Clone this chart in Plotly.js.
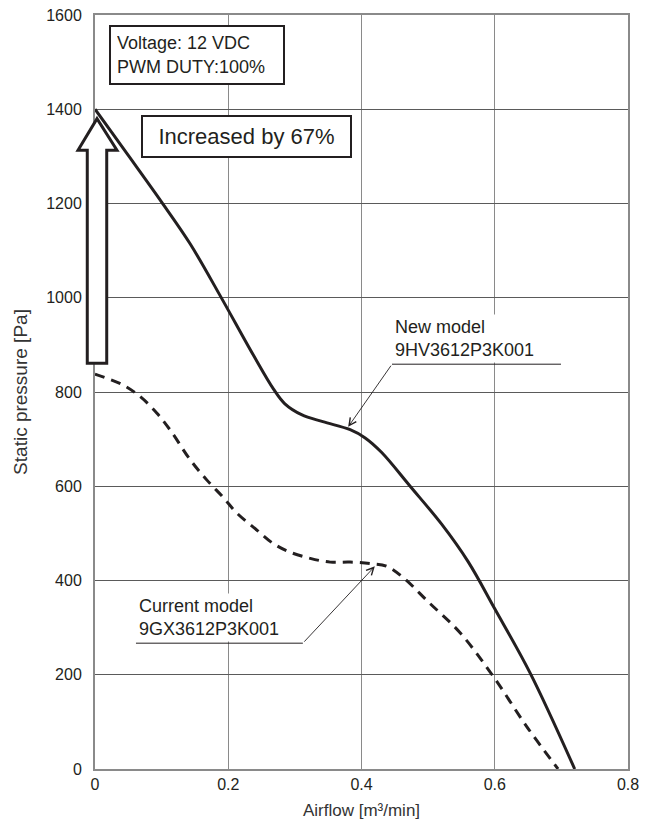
<!DOCTYPE html>
<html>
<head>
<meta charset="utf-8">
<script src="https://cdn.plot.ly/plotly-3.0.1.min.js"></script>
<style>html,body{margin:0;padding:0;background:#fff;}#chart{width:654px;height:825px;}</style>
</head>
<body>
<div id="chart"></div>
<script>
// ---- Data ----
const newModelName = "New model";
const newModelCode = "9HV3612P3K001";
const newAirflow  = [0, 0.05, 0.1, 0.143, 0.188, 0.237, 0.268, 0.285, 0.31, 0.342, 0.383, 0.405, 0.43, 0.473, 0.52, 0.56, 0.6, 0.653, 0.72];
const newPressure = [1400, 1302, 1203, 1114, 1004, 880, 806, 775, 752, 737, 720, 703, 672, 600, 520, 440, 340, 204, 0];

const curModelName = "Current model";
const curModelCode = "9GX3612P3K001";
const curAirflow  = [0, 0.042, 0.068, 0.093, 0.113, 0.143, 0.168, 0.192, 0.213, 0.243, 0.267, 0.293, 0.323, 0.353, 0.383, 0.413, 0.438, 0.462, 0.5, 0.548, 0.598, 0.648, 0.695];
const curPressure = [838, 815, 790, 755, 719, 656, 613, 577, 543, 507, 479, 460, 447, 439, 439, 436, 430, 407, 355, 289, 196, 90, 0];

const xTicks = [0, 0.2, 0.4, 0.6, 0.8];
const yTicks = [0, 200, 400, 600, 800, 1000, 1200, 1400, 1600];

const conditionText = "Voltage: 12 VDC<br>PWM DUTY:100%";
const increaseText = "Increased by 67%";
const xTitle = "Airflow [m³/min]";
const yTitle = "Static pressure [Pa]";

// ---- Styling ----
const ink = "#231f20";
const xRange = [0, 0.8];
const toPaperX = v => (v - xRange[0]) / (xRange[1] - xRange[0]);

const traces = [
  {x: newAirflow, y: newPressure, mode: "lines", name: newModelName,
   line: {color: ink, width: 3, shape: "spline", smoothing: 1}, hoverinfo: "skip"},
  {x: curAirflow, y: curPressure, mode: "lines", name: curModelName,
   line: {color: ink, width: 3, dash: "10px,7px", shape: "spline", smoothing: 1}, hoverinfo: "skip"}
];

// hollow block arrow (paper x, data y)
const sL = toPaperX(-0.0116), sR = toPaperX(0.0176);
const wL = toPaperX(-0.0255), wR = toPaperX(0.033), tX = toPaperX(0.003);
const aBottom = 861, aBase = 1313, aTip = 1380;
const arrowPath = `M${sL},${aBottom} L${sR},${aBottom} L${sR},${aBase} L${wR},${aBase} L${tX},${aTip} L${wL},${aBase} L${sL},${aBase} Z`;

const shapes = [
  {type: "path", xref: "paper", yref: "y", path: arrowPath,
   fillcolor: "#ffffff", line: {color: ink, width: 3}, layer: "above"},
  {type: "line", xref: "x", yref: "y", x0: 0.4458, x1: 0.6994, y0: 859, y1: 859,
   line: {color: ink, width: 1}},
  {type: "line", xref: "x", yref: "y", x0: 0.0615, x1: 0.312, y0: 267, y1: 267,
   line: {color: ink, width: 1}}
];

const labelFont = {family: "Liberation Sans, Arial, sans-serif", size: 18, color: ink};

const annotations = [
  {xref: "x", yref: "y", x: 0.021, y: 1579, xanchor: "left", yanchor: "top",
   text: conditionText, showarrow: false, align: "left", font: labelFont,
   bgcolor: "#ffffff", bordercolor: ink, borderwidth: 2, borderpad: 6, width: 160, height: 44},
  {xref: "x", yref: "y", x: 0.069, y: 1388, xanchor: "left", yanchor: "top",
   text: increaseText, showarrow: false, align: "center",
   font: {family: "Liberation Sans, Arial, sans-serif", size: 22, color: ink},
   bgcolor: "#ffffff", bordercolor: ink, borderwidth: 2, borderpad: 6, width: 195, height: 27},
  {xref: "x", yref: "y", x: 0.4458, y: 861, xanchor: "left", yanchor: "bottom",
   text: newModelName + "<br>" + newModelCode, showarrow: false, align: "left", font: labelFont,
   bgcolor: "#ffffff", borderpad: 2, width: 165},
  {xref: "x", yref: "y", x: 0.0615, y: 269, xanchor: "left", yanchor: "bottom",
   text: curModelName + "<br>" + curModelCode, showarrow: false, align: "left", font: labelFont,
   bgcolor: "#ffffff", borderpad: 2, width: 163},
  {xref: "x", yref: "y", x: 0.38, y: 726, axref: "x", ayref: "y", ax: 0.4458, ay: 859,
   text: "", showarrow: true, arrowhead: 5, arrowsize: 1.6, arrowwidth: 0.9, arrowcolor: ink, standoff: 0},
  {xref: "x", yref: "y", x: 0.42, y: 430, axref: "x", ayref: "y", ax: 0.312, ay: 267,
   text: "", showarrow: true, arrowhead: 5, arrowsize: 1.6, arrowwidth: 0.9, arrowcolor: ink, standoff: 0}
];

const tickFont = {family: "Liberation Sans Narrow, Arial Narrow, sans-serif", size: 16, color: ink};

const layout = {
  width: 654, height: 825,
  margin: {l: 95, r: 26, t: 15, b: 56},
  paper_bgcolor: "#ffffff", plot_bgcolor: "#ffffff",
  showlegend: false,
  xaxis: {
    range: xRange, tickvals: xTicks, ticktext: xTicks.map(String),
    showgrid: true, gridcolor: "#8a8a8a", gridwidth: 1.2,
    showline: true, linecolor: "#8a8a8a", linewidth: 2, mirror: true,
    zeroline: false, ticks: "", tickfont: tickFont,
    title: {text: xTitle, font: {family: "Liberation Sans, Arial, sans-serif", size: 17, color: "#333"}, standoff: 12},
    fixedrange: true
  },
  yaxis: {
    range: [0, 1600], tickvals: yTicks, ticktext: yTicks.map(String),
    showgrid: true, gridcolor: "#5a5a5a", gridwidth: 1,
    showline: true, linecolor: "#8a8a8a", linewidth: 2, mirror: true,
    zeroline: false, ticks: "", tickfont: tickFont, ticklabelstandoff: 8,
    title: {text: yTitle, font: {family: "Liberation Sans, Arial, sans-serif", size: 19, color: "#333"}, standoff: 14},
    fixedrange: true
  },
  shapes: shapes,
  annotations: annotations
};

Plotly.newPlot("chart", traces, layout, {displayModeBar: false, staticPlot: true});
</script>
</body>
</html>
